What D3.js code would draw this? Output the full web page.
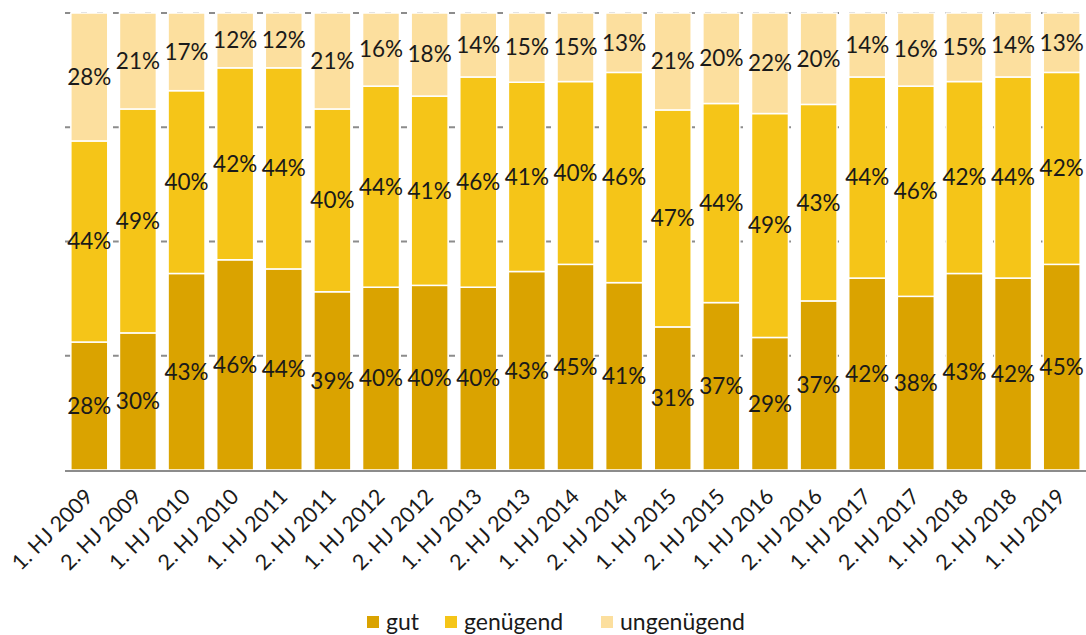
<!DOCTYPE html>
<html><head><meta charset="utf-8">
<script src="https://cdn.jsdelivr.net/npm/d3@7"></script>
<style>body{margin:0;background:#fff}svg{display:block}text{font-family:Lato,"Open Sans",sans-serif}</style>
</head><body><svg id="c" width="1086" height="635"></svg>
<script>
const categories = ["1. HJ 2009","2. HJ 2009","1. HJ 2010","2. HJ 2010","1. HJ 2011","2. HJ 2011","1. HJ 2012","2. HJ 2012","1. HJ 2013","2. HJ 2013","1. HJ 2014","2. HJ 2014","1. HJ 2015","2. HJ 2015","1. HJ 2016","2. HJ 2016","1. HJ 2017","2. HJ 2017","1. HJ 2018","2. HJ 2018","1. HJ 2019"];
const gut =        [28,30,43,46,44,39,40,40,40,43,45,41,31,37,29,37,42,38,43,42,45];
const genuegend =  [44,49,40,42,44,40,44,41,46,41,40,46,47,44,49,43,44,46,42,44,42];
const ungenuegend= [28,21,17,12,12,21,16,18,14,15,15,13,21,20,22,20,14,16,15,14,13];
const seriesNames = ["gut","genügend","ungenügend"];
const colors = ["#DAA300","#F5C518","#FCDF9E"];
const gridTicks = [0,0.25,0.5,0.75,1];

(function(){
const rows = categories.map((c,i)=>({cat:c,"gut":gut[i],"genügend":genuegend[i],"ungenügend":ungenuegend[i]}));
const stack = d3.stack().keys(seriesNames).offset(d3.stackOffsetExpand)(rows);

const svg = d3.select("#c");
const L=65, R=1086, T=13, B=470;
const x = d3.scaleBand().domain(categories).range([L,R]).paddingInner(0.24).paddingOuter(0.12);
const y = d3.scaleLinear().domain([0,1]).range([B,T]);

svg.append("g").selectAll("line").data(gridTicks.slice(1)).join("line")
  .attr("x1",L).attr("x2",R).attr("y1",d=>y(d)).attr("y2",d=>y(d))
  .attr("stroke","#8c8c8c").attr("stroke-width",2).attr("stroke-dasharray","6,10");

const g = svg.append("g");
stack.forEach((s,si)=>{
  g.append("g").selectAll("rect").data(s).join("rect")
    .attr("x",d=>x(d.data.cat)).attr("width",x.bandwidth())
    .attr("y",d=>y(d[1])).attr("height",d=>y(d[0])-y(d[1]))
    .attr("fill",colors[si]).attr("stroke","#fff").attr("stroke-width",1.5);
  g.append("g").selectAll("text").data(s).join("text")
    .attr("x",d=>x(d.data.cat)+x.bandwidth()/2)
    .attr("y",d=>(y(d[0])+y(d[1]))/2)
    .attr("dy","0.35em").attr("text-anchor","middle")
    .attr("font-size",22.5).attr("fill","#1a1a1a")
    .text(d=>d.data[seriesNames[si]]+"%");
});

svg.append("line").attr("x1",L).attr("x2",R).attr("y1",B+1).attr("y2",B+1)
  .attr("stroke","#8c8c8c").attr("stroke-width",2);

const xAxis = d3.axisBottom(x).tickSize(0).tickPadding(0);
const ax = svg.append("g").attr("transform",`translate(0,${B})`).call(xAxis);
ax.select(".domain").remove();
ax.selectAll("text").attr("font-size",21.5).attr("fill","#1a1a1a")
  .attr("text-anchor","end").attr("dy",null).attr("y",0)
  .attr("transform","translate(5,28) rotate(-45)");

const legendItems = [{n:"gut",x:367},{n:"genügend",x:445},{n:"ungenügend",x:601}];
const lg = svg.append("g");
legendItems.forEach((it,i)=>{
  lg.append("rect").attr("x",it.x).attr("y",616).attr("width",12).attr("height",12).attr("fill",colors[i]);
  lg.append("text").attr("x",it.x+19).attr("y",622).attr("dy","0.35em").attr("font-size",23).attr("fill","#1a1a1a").text(it.n);
});
})();
</script></body></html>
